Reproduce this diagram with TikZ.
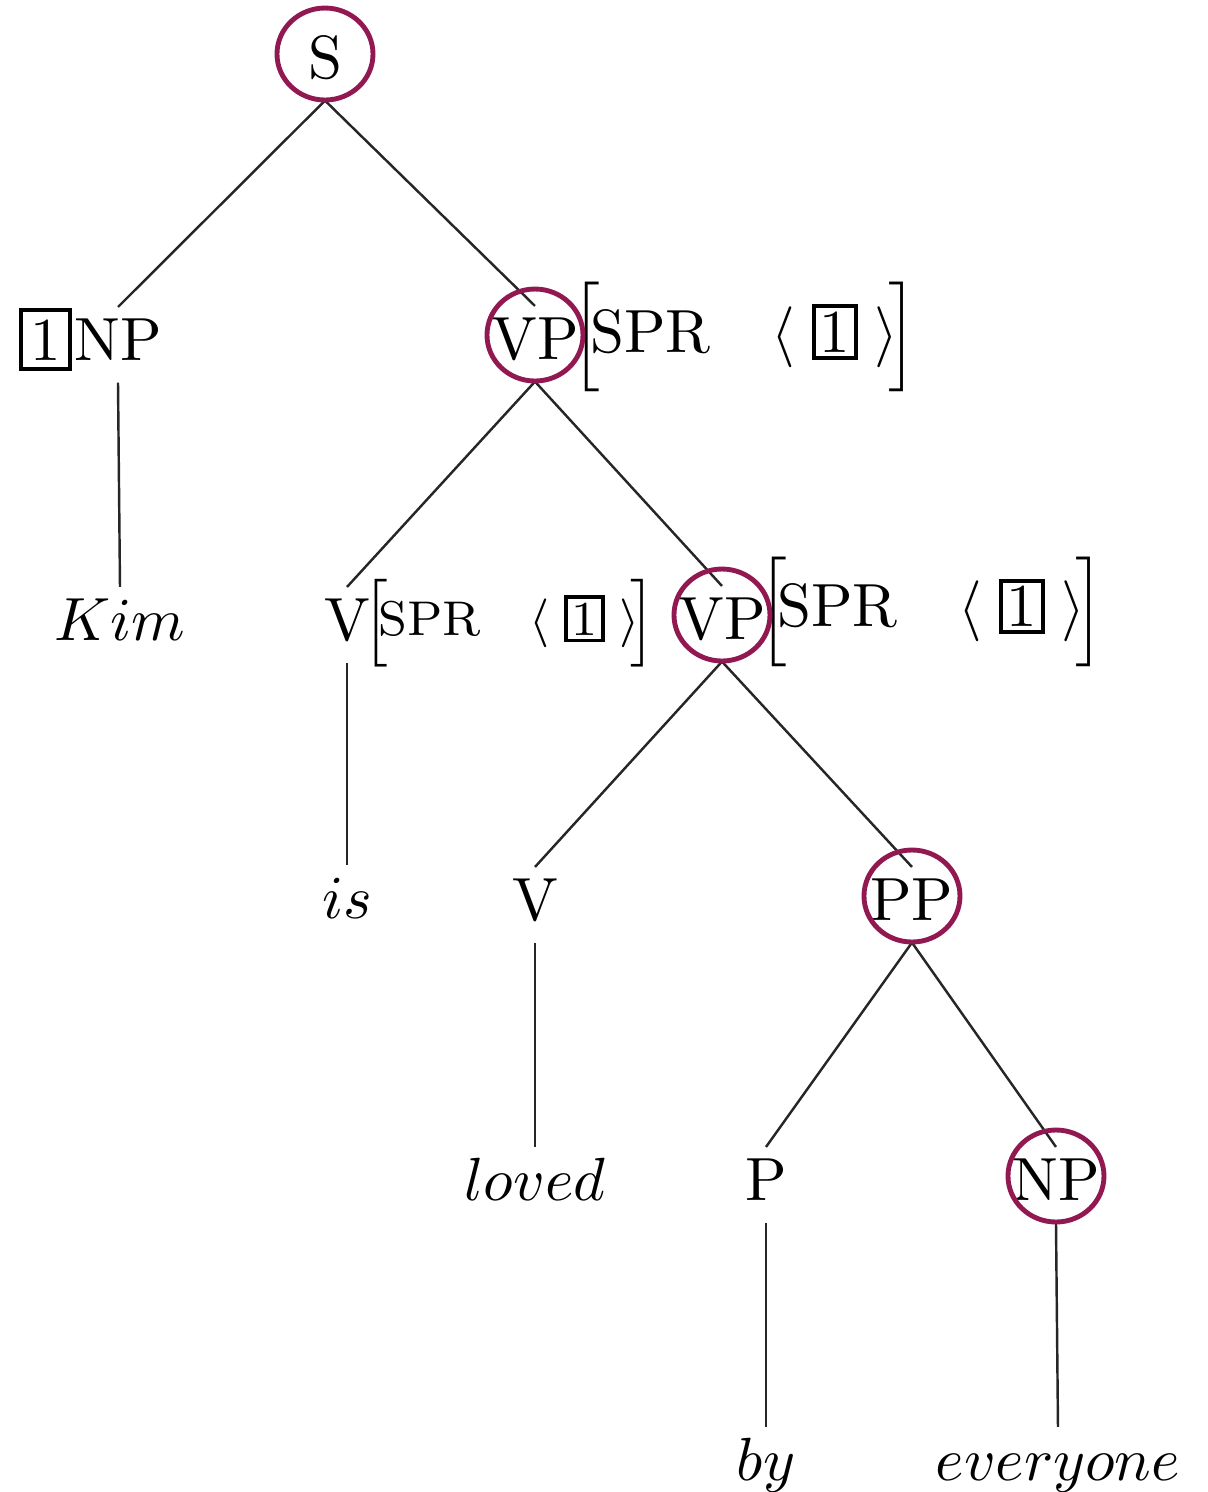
\documentclass[tikz,border=0pt]{standalone}
\usepackage{amsmath}

\definecolor{ringred}{RGB}{145,24,80}
\newcommand{\tagbox}[2][0.6pt]{{\setlength{\fboxsep}{#1}\setlength{\fboxrule}{0.6pt}\fbox{#2}}}
\newcommand{\sprval}[1]{$\Bigl[\mkern-3mu\mathrm{SPR}\quad\langle\;\mbox{\tagbox{#1}}\;\rangle\mkern-3mu\Bigr]$}

\begin{document}
\begin{tikzpicture}[x=0.164pt, y=-0.164pt, draw=black!85]
    \tikzstyle{cat}=[anchor=base, inner sep=1.5pt, text height=7pt, text depth=2pt]
    \tikzstyle{feat}=[anchor=base west, inner sep=0pt, xshift=-3pt]
    \tikzstyle{ring}=[draw=ringred, thick]
    \useasboundingbox (0,0) rectangle (1208,1492);
    % categories, row by row
    \node[cat] (S) at (325,78) {S};
    \node[cat] (NP) at (118,360) {NP};
    \node[cat] (VP) at (535,359) {VP};
    \node[cat] (Kim) at (120,640) {$Kim$};
    \node[cat] (V) at (347,640) {V};
    \node[cat] (VP-2) at (722,639) {VP};
    \node[cat] (is) at (347,918) {$is$};
    \node[cat] (V-2) at (535,920) {V};
    \node[cat] (PP) at (912,920) {PP};
    \node[cat] (loved) at (535,1200) {$loved$};
    \node[cat] (P) at (766,1200) {P};
    \node[cat] (NP-2) at (1056,1200) {NP};
    \node[cat] (by) at (766,1480) {$by$};
    \node[cat] (every) at (1058,1480) {$everyone$};
    % tag and feature structures
    \node[anchor=base east, inner sep=0pt, xshift=1.5pt] (NP-tag) at (NP.base west) {\tagbox[1.2pt]{1}};
    \node[feat, yshift=1.1pt] (VP-f) at (VP.base east) {\sprval{1}};
    \node[feat, yshift=0.8pt] (V-f) at (V.base east) {\footnotesize\sprval{1}};
    \node[feat, yshift=2pt] (VP-2-f) at (VP-2.base east) {\sprval{1}};
    % branches
    \foreach \a/\b in {S/NP, S/VP, NP/Kim, VP/V, VP/VP-2, V/is, VP-2/V-2, VP-2/PP,
                       V-2/loved, PP/P, PP/NP-2, P/by, NP-2/every}
        \draw (\a.south) -- (\b.north);
    % highlighted nodes
    \foreach \n in {S, VP, VP-2, PP, NP-2}
        \draw[ring] (\n.base) ++(0,-24) ellipse [x radius=48, y radius=46];
\end{tikzpicture}
\end{document}
